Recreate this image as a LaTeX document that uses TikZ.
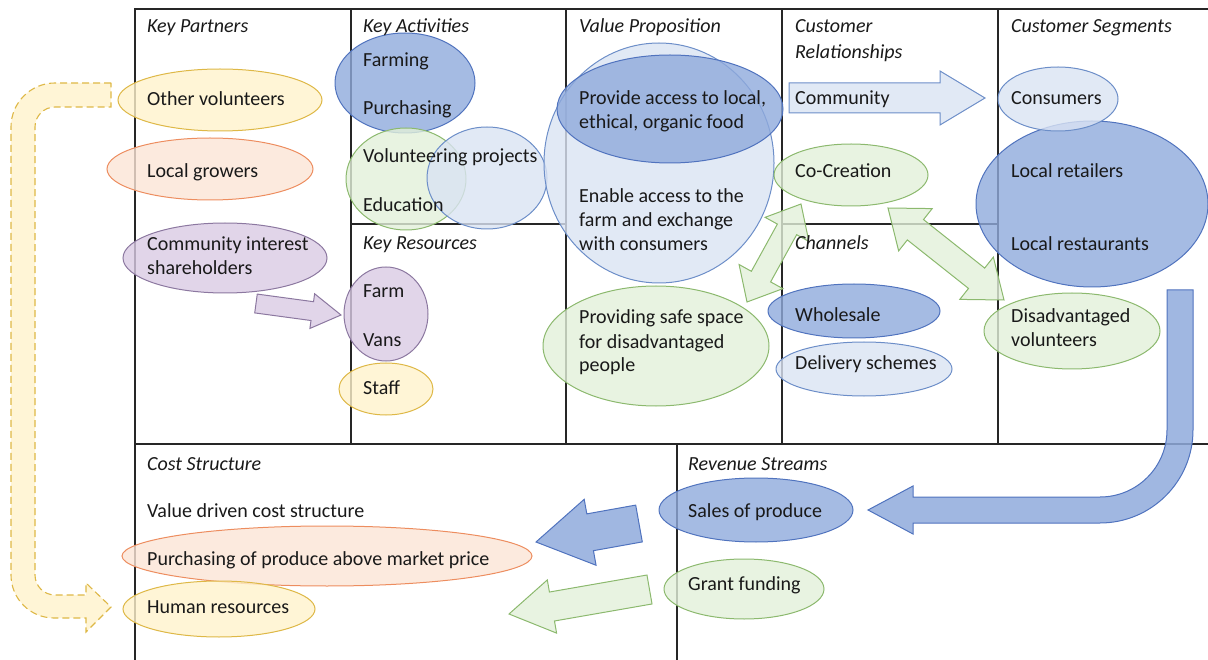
\documentclass[tikz,border=0pt]{standalone}
\usepackage{fontspec}
\setmainfont{Carlito}
\usepackage{tikz}
\usetikzlibrary{shapes.geometric}
\usetikzlibrary{calc}
\usetikzlibrary{positioning}
\definecolor{yellowfill}{RGB}{255,242,204}
\definecolor{yellowline}{RGB}{222,184,70}
\definecolor{orangefill}{RGB}{251,229,214}
\definecolor{orangeline}{RGB}{237,141,95}
\definecolor{purplefill}{RGB}{217,202,228}
\definecolor{purpleline}{RGB}{140,120,160}
\definecolor{darkfill}{RGB}{143,170,220}
\definecolor{darkline}{RGB}{80,115,190}
\definecolor{lightfill}{RGB}{218,227,243}
\definecolor{lightline}{RGB}{108,142,200}
\definecolor{greenfill}{RGB}{226,240,217}
\definecolor{greenline}{RGB}{140,185,110}

% block arrow: style, tail, tip, shaft half width, head half width, head length
\newcommand{\blockarrow}[6]{%
  \coordinate (ba-h) at ($(#3)!#6!(#2)$);
  \draw[#1] ($(#2)!#4!90:(#3)$) -- ($(ba-h)!#4!90:(#3)$) -- ($(ba-h)!#5!90:(#3)$) -- (#3)
    -- ($(ba-h)!#5!-90:(#3)$) -- ($(ba-h)!#4!-90:(#3)$) -- ($(#2)!#4!-90:(#3)$) -- cycle;}
% double block arrow: style, end, end, shaft half width, head half width, head length
\newcommand{\dblarrow}[6]{%
  \coordinate (da-a) at ($(#2)!#6!(#3)$);
  \coordinate (da-b) at ($(#3)!#6!(#2)$);
  \draw[#1] (#2) -- ($(da-a)!#5!90:(#3)$) -- ($(da-a)!#4!90:(#3)$) -- ($(da-b)!#4!-90:(#2)$)
    -- ($(da-b)!#5!-90:(#2)$) -- (#3) -- ($(da-b)!#5!90:(#2)$) -- ($(da-b)!#4!90:(#2)$)
    -- ($(da-a)!#4!-90:(#3)$) -- ($(da-a)!#5!-90:(#3)$) -- cycle;}

\begin{document}
\begin{tikzpicture}[x=1pt, y=-1pt,
    frame/.style={line width=1.2pt, black!85},
    blob/.style={ellipse, inner sep=0pt, line width=1pt, fill opacity=0.8},
    yellowblob/.style={blob, draw=yellowline, fill=yellowfill},
    orangeblob/.style={blob, draw=orangeline, fill=orangefill},
    purpleblob/.style={blob, draw=purpleline, fill=purplefill},
    darkblob/.style={blob, draw=darkline, fill=darkfill},
    lightblob/.style={blob, draw=lightline, fill=lightfill},
    greenblob/.style={blob, draw=greenline, fill=greenfill},
    purplearrow/.style={line width=1pt, draw=purpleline, fill=purplefill, fill opacity=0.8},
    lightarrow/.style={line width=1pt, draw=lightline, fill=lightfill, fill opacity=0.8},
    darkarrow/.style={line width=1pt, draw=darkline, fill=darkfill, fill opacity=0.85},
    greenarrow/.style={line width=1pt, draw=greenline, fill=greenfill, fill opacity=0.8},
    txt/.style={anchor=base west, inner sep=0pt, align=left, text=black!90, font=\fontsize{20}{24}\selectfont},
    ttl/.style={txt, font=\fontsize{20}{26}\selectfont\itshape}]
\useasboundingbox (0,0) rectangle (1208,660);

% canvas
\draw[frame] (135,660) -- (135,9) -- (1208,9);
\draw[frame] (135,444) -- (1208,444);
\foreach \cx in {351,566,782,998}
  \draw[frame] (\cx,9) -- (\cx,444);
\draw[frame] (351,224) -- (566,224);
\draw[frame] (782,224) -- (998,224);
\draw[frame] (677,444) -- (677,660);

% shapes
\node[yellowblob, minimum width=204pt, minimum height=62pt] (othervol) at (220,100) {};
\node[orangeblob, minimum width=206pt, minimum height=62pt] (localgrow) at (210,169) {};
\node[purpleblob, minimum width=204pt, minimum height=70pt] (cis) at (225,258) {};
\node[darkblob, minimum width=140pt, minimum height=100pt] (farming) at (405,83) {};
\node[greenblob, minimum width=120pt, minimum height=102pt] (volgreen) at (406,179) {};
\node[lightblob, minimum width=120pt, minimum height=102pt] (volblue) at (487,178) {};
\node[purpleblob, minimum width=84pt, minimum height=94pt] (farmvans) at (386,314) {};
\node[yellowblob, minimum width=94pt, minimum height=52pt] (staff) at (386,389) {};
\node[lightblob, minimum width=230pt, minimum height=240pt] (vpbig) at (659,163) {};
\node[darkblob, minimum width=226pt, minimum height=108pt] (vpdark) at (670,109) {};
\node[greenblob, minimum width=226pt, minimum height=120pt] (vpsafe) at (656,346) {};
\node[greenblob, minimum width=154pt, minimum height=62pt] (cocreate) at (851,175) {};
\node[darkblob, minimum width=172pt, minimum height=54pt] (wholesale) at (854,311) {};
\node[lightblob, minimum width=176pt, minimum height=54pt] (delivery) at (864,369) {};
\node[darkblob, minimum width=232pt, minimum height=166pt] (locals) at (1092,204) {};
\node[lightblob, minimum width=120pt, minimum height=64pt] (consumers) at (1058,99) {};
\node[greenblob, minimum width=176pt, minimum height=76pt] (disvol) at (1072,331) {};
\node[orangeblob, minimum width=410pt, minimum height=60pt] (buyprod) at (327,556) {};
\node[yellowblob, minimum width=192pt, minimum height=56pt] (humanres) at (219,609) {};
\node[darkblob, minimum width=194pt, minimum height=64pt] (sales) at (756,510) {};
\node[greenblob, minimum width=160pt, minimum height=60pt] (grant) at (744,589) {};

% arrows
\coordinate (pa-tail) at (256,303.5);
\coordinate (pa-tip) at (341,315);
\blockarrow{purplearrow}{pa-tail}{pa-tip}{9.5pt}{17.5pt}{29pt}
\coordinate (cr-tail) at (789,98);
\coordinate (cr-tip) at (985,98);
\blockarrow{lightarrow}{cr-tail}{cr-tip}{15pt}{27pt}{45pt}
\coordinate (dv-a) at (801,204);
\coordinate (dv-b) at (747,302);
\dblarrow{greenarrow}{dv-a}{dv-b}{11pt}{25pt}{29pt}
\coordinate (dc-a) at (888,208);
\coordinate (dc-b) at (1004,300);
\dblarrow{greenarrow}{dc-a}{dc-b}{13pt}{27pt}{35pt}
\coordinate (sa-tail) at (639,523.5);
\coordinate (sa-tip) at (536,542);
\blockarrow{darkarrow}{sa-tail}{sa-tip}{18.7pt}{33.5pt}{55pt}
\coordinate (gr-tail) at (649.5,589.5);
\coordinate (gr-tip) at (509,614);
\blockarrow{greenarrow}{gr-tail}{gr-tip}{14.7pt}{27pt}{43.6pt}
% curved arrow from segments to revenue
\draw[darkarrow] (1167,290) -- (1193,290) -- (1193,430) arc[start angle=0, end angle=90, radius=93]
  -- (913,523) -- (913,534) -- (868,510) -- (913,486) -- (913,497) -- (1100,497)
  arc[start angle=90, end angle=0, radius=67] -- cycle;
% dashed loop from partners to cost
\draw[line width=1.1pt, dash pattern=on 7pt off 4pt, draw=yellowline, fill=yellowfill, fill opacity=0.8]
  (111,83) -- (55,83) arc[start angle=-90, end angle=-180, radius=44]
  -- (11,575) arc[start angle=180, end angle=90, radius=43]
  -- (86,618) -- (86,632) -- (111,607) -- (86,583) -- (86,595) -- (55,595)
  arc[start angle=90, end angle=180, radius=20]
  -- (35,127) arc[start angle=180, end angle=270, radius=20] -- (111,107) -- cycle;

% titles
\node[ttl] (kp) at (147,33) {Key Partners};
\node[ttl] (ka) at (363,33) {Key Activities};
\node[ttl] (vp) at (579,33) {Value Proposition};
\node[ttl] (cr) at (795,59) {Customer\\Relationships};
\node[ttl] (cs) at (1011,33) {Customer Segments};
\node[ttl] (kr) at (363,250) {Key Resources};
\node[ttl] (ch) at (795,250) {Channels};
\node[ttl] (cost) at (147,470) {Cost Structure};
\node[ttl] (rev) at (688,470) {Revenue Streams};

% texts
\node[txt] (othervol-t) at (147,106) {Other volunteers};
\node[txt] (localgrow-t) at (147,178) {Local growers};
\node[txt] (cis-t) at (147,275) {Community interest\\shareholders};
\node[txt] (farming-t) at (363,67) {Farming};
\node[txt] (purchasing-t) at (363,115) {Purchasing};
\node[txt] (volproj-t) at (363,163) {Volunteering projects};
\node[txt] (education-t) at (363,212) {Education};
\node[txt] (farm-t) at (363,298) {Farm};
\node[txt] (vans-t) at (363,347) {Vans};
\node[txt] (staff-t) at (363,395) {Staff};
\node[txt] (vpdark-t) at (579,129) {Provide access to local,\\ethical, organic food};
\node[txt] (vpbig-t) at (579,251) {Enable access to the\\farm and exchange\\with consumers};
\node[txt] (vpsafe-t) at (579,372) {Providing safe space\\for disadvantaged\\people};
\node[txt] (community-t) at (795,105) {Community};
\node[txt] (cocreate-t) at (795,178) {Co-Creation};
\node[txt] (wholesale-t) at (795,322) {Wholesale};
\node[txt] (delivery-t) at (795,370) {Delivery schemes};
\node[txt] (consumers-t) at (1011,105) {Consumers};
\node[txt] (retailers-t) at (1011,178) {Local retailers};
\node[txt] (restaurants-t) at (1011,251) {Local restaurants};
\node[txt] (disvol-t) at (1011,347) {Disadvantaged\\volunteers};
\node[txt] (valuecost-t) at (147,517) {Value driven cost structure};
\node[txt] (buyprod-t) at (147,565) {Purchasing of produce above market price};
\node[txt] (humanres-t) at (147,613) {Human resources};
\node[txt] (sales-t) at (688,517) {Sales of produce};
\node[txt] (grant-t) at (688,590) {Grant funding};
\end{tikzpicture}
\end{document}
